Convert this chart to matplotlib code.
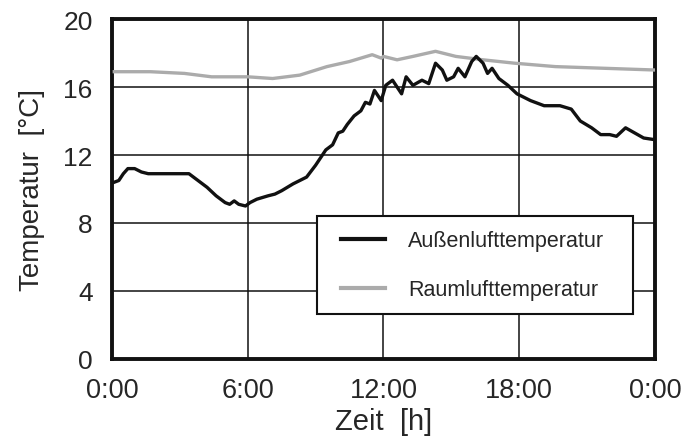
import matplotlib.pyplot as plt
from matplotlib.legend_handler import HandlerLine2D

# Außenlufttemperatur (Stunde, °C)
hours_out = [0.1, 0.3, 0.5, 0.7, 1.0, 1.3, 1.6, 2.0, 2.4, 3.0, 3.4, 3.7, 4.2, 4.6,
             5.0, 5.2, 5.4, 5.6, 5.9, 6.1, 6.4, 6.9, 7.2, 7.5, 8.0, 8.3, 8.6, 9.0,
             9.45, 9.75, 10.0, 10.2, 10.4, 10.7, 11.0, 11.2, 11.4, 11.6, 11.9, 12.1,
             12.4, 12.6, 12.8, 13.0, 13.3, 13.7, 14.0, 14.3, 14.6, 14.8, 15.1, 15.3,
             15.6, 15.9, 16.1, 16.4, 16.6, 16.8, 17.1, 17.5, 17.9, 18.5, 19.1, 19.8,
             20.3, 20.7, 21.2, 21.6, 22.0, 22.3, 22.7, 23.1, 23.5, 24.0]
temp_out = [10.4, 10.5, 10.9, 11.2, 11.2, 11.0, 10.9, 10.9, 10.9, 10.9, 10.9, 10.6, 10.1, 9.6,
            9.2, 9.1, 9.3, 9.1, 9.0, 9.2, 9.4, 9.6, 9.7, 9.9, 10.3, 10.5, 10.7, 11.4,
            12.3, 12.6, 13.3, 13.4, 13.8, 14.3, 14.6, 15.1, 15.0, 15.8, 15.2, 16.1,
            16.4, 16.0, 15.6, 16.6, 16.1, 16.4, 16.2, 17.4, 17.0, 16.4, 16.6, 17.1,
            16.6, 17.5, 17.8, 17.4, 16.8, 17.1, 16.5, 16.1, 15.6, 15.2, 14.9, 14.9,
            14.7, 14.0, 13.6, 13.2, 13.2, 13.1, 13.6, 13.3, 13.0, 12.9]

# Raumlufttemperatur (Stunde, °C)
hours_in = [0.1, 1.7, 3.2, 4.4, 6.0, 7.1, 8.3, 9.5, 10.5, 11.5, 11.9, 12.0, 12.6,
            13.3, 14.3, 15.2, 16.4, 17.8, 19.6, 21.8, 24.0]
temp_in = [16.9, 16.9, 16.8, 16.6, 16.6, 16.5, 16.7, 17.2, 17.5, 17.9, 17.7, 17.8, 17.6,
           17.8, 18.1, 17.8, 17.6, 17.4, 17.2, 17.1, 17.0]

x_ticks = [0, 6, 12, 18, 24]
x_labels = ["0:00", "6:00", "12:00", "18:00", "0:00"]
y_ticks = [0, 4, 8, 12, 16, 20]

plt.rcParams['font.family'] = ['Liberation Sans', 'DejaVu Sans']
text_color = "#262626"

fig = plt.figure(figsize=(6.89, 4.39), dpi=100)
ax = fig.add_axes([0.1626, 0.18, 0.788, 0.7744])

ax.plot(hours_in, temp_in, color="#ababab", lw=2.4, label="Raumlufttemperatur", zorder=3)
ax.plot(hours_out, temp_out, color="#111111", lw=2.4, label="Außenlufttemperatur", zorder=4)

ax.set_xlim(0, 24)
ax.set_ylim(0, 20)
ax.set_xticks(x_ticks)
ax.set_xticklabels(x_labels)
ax.set_yticks(y_ticks)
ax.tick_params(length=0, colors=text_color)
ax.tick_params(axis="x", labelsize=19.5, pad=13)
ax.tick_params(axis="y", labelsize=19, pad=14)
ax.grid(color="#111111", lw=1.1)
ax.set_axisbelow(True)
for s in ax.spines.values():
    s.set_linewidth(2.8)
    s.set_color("#111111")

ax.set_xlabel("Zeit  [h]", fontsize=21, color=text_color, labelpad=3)
ax.set_ylabel("Temperatur  [°C]", fontsize=20, color=text_color, labelpad=13)

# Legende: Strich etwas nach rechts versetzt
h, l = ax.get_legend_handles_labels()
leg = ax.legend(h[::-1], l[::-1], loc="lower left",
                bbox_to_anchor=(0.377, 0.132, 0.5825, 0.294), mode="expand",
                borderaxespad=0, fontsize=15.5, handlelength=2.5, handletextpad=1.1,
                labelspacing=1.3, borderpad=0.65, fancybox=False, framealpha=1,
                edgecolor="#111111",
                handler_map={ln: HandlerLine2D(xpad=0.5) for ln in h})
leg.get_frame().set_linewidth(1.5)
leg.set_zorder(5)
for t in leg.get_texts():
    t.set_color(text_color)
for line in leg.get_lines():
    line.set_linewidth(3)

fig.savefig("out.png", dpi=100)
